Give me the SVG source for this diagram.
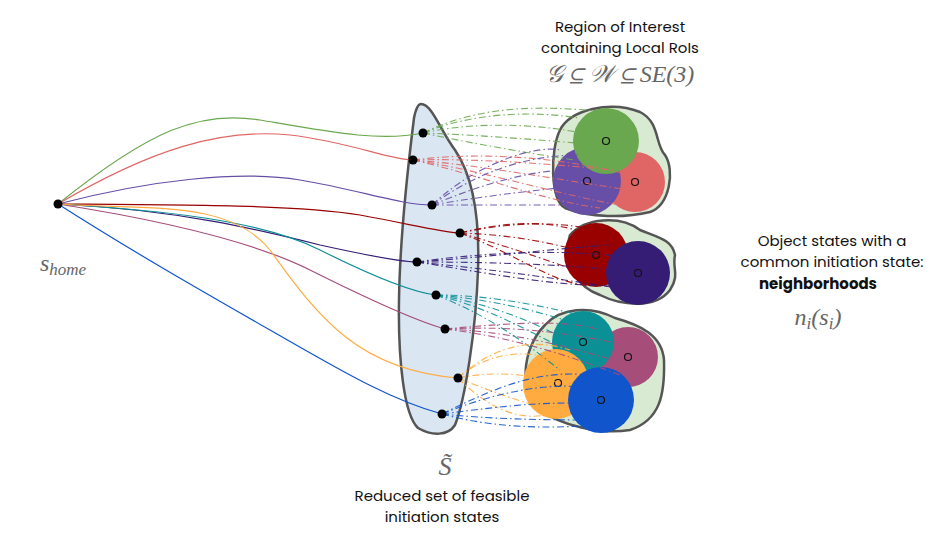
<svg xmlns="http://www.w3.org/2000/svg" width="948" height="538" viewBox="0 0 948 538">
<style>
.t{font-family:"Poppins","Inter","Noto Sans",sans-serif;font-size:15px;fill:#111;text-anchor:middle}
.m{font-family:"Liberation Serif",serif;font-style:italic;fill:#666;text-anchor:middle}
.c{fill:none;stroke-width:1.2}
.d{fill:none;stroke-width:1.1;stroke-dasharray:7 3 1.5 3;opacity:.9}
.pt{fill:#000}
.ctr{fill:none;stroke:#111;stroke-width:1.2}
.cl{fill:#d9ead3;stroke:#555;stroke-width:2.5}
</style>
<rect width="948" height="538" fill="#fff"/>
<g id="regionS"><path d="M421,104 C432,104 440,130 455,150 C472,175 480,215 478,270 C476,330 465,400 455,425 C448,436 432,436 418,428 C404,415 398,360 399,300 C400,230 410,150 414,118 C416,108 418,104 421,104 Z" fill="#dae6f2" stroke="#555" stroke-width="2.5"/></g>
<g id="cluster1"><path d="M560,130 C570,110 610,100 640,112 C660,122 655,145 665,155 C675,170 670,205 650,212 C625,218 590,218 565,208 C550,200 550,150 560,130 Z" class="cl"/>
<circle cx="635" cy="182" r="30" fill="#e06666"/><circle cx="587" cy="181" r="34" fill="#674ea7"/><circle cx="606" cy="141" r="33" fill="#6aa84f"/>
<circle cx="606" cy="141" r="3.5" class="ctr"/><circle cx="587" cy="181" r="3.5" class="ctr"/><circle cx="635" cy="182" r="3.5" class="ctr"/></g>
<g id="cluster2"><path d="M570,235 C585,218 620,215 640,230 C660,238 672,240 675,255 C672,268 680,275 670,290 C655,310 620,305 600,295 C580,288 560,265 570,235 Z" class="cl"/>
<circle cx="596" cy="255" r="32" fill="#990000"/><circle cx="638" cy="273" r="32" fill="#351c75"/>
<circle cx="596" cy="255" r="3.5" class="ctr"/><circle cx="638" cy="273" r="3.5" class="ctr"/></g>
<g id="cluster3"><path d="M545,325 C560,308 590,305 615,318 C640,325 662,335 664,360 C665,395 660,420 630,430 C600,435 560,425 540,410 C520,395 520,350 545,325 Z" class="cl"/>
<circle cx="628" cy="357" r="30" fill="#a64d79"/><circle cx="583" cy="342" r="31" fill="#0b9096"/><ellipse cx="556" cy="384" rx="33" ry="35" fill="#ffab40"/><circle cx="601" cy="400" r="33" fill="#1155cc"/>
<circle cx="583" cy="342" r="3.5" class="ctr"/><circle cx="628" cy="357" r="3.5" class="ctr"/><circle cx="558" cy="383" r="3.5" class="ctr"/><circle cx="601" cy="400" r="3.5" class="ctr"/></g>
<g id="connectors">
<path class="c" stroke="#6aa84f" d="M58,204 C150,130 200,110 260,120 C330,132 380,142 423,133"/>
<path class="c" stroke="#e06666" d="M58,204 C150,150 220,128 290,135 C350,142 390,160 413,160"/>
<path class="c" stroke="#674ea7" d="M58,204 C150,180 240,170 300,180 C360,190 400,205 432,205"/>
<path class="c" stroke="#990000" d="M58,204 C200,205 300,205 360,215 C410,224 440,232 460,233"/>
<path class="c" stroke="#351c75" d="M58,204 C180,210 260,230 320,245 C370,256 400,262 417,262"/>
<path class="c" stroke="#0b9096" d="M58,204 C160,210 260,220 320,250 C370,275 410,292 436,295"/>
<path class="c" stroke="#a64d79" d="M58,204 C160,220 250,240 310,270 C370,300 420,322 445,329"/>
<path class="c" stroke="#ffab40" d="M58,204 C150,210 230,200 270,250 C320,320 360,370 458,378"/>
<path class="c" stroke="#1155cc" d="M58,204 C130,250 200,290 270,330 C340,370 390,400 442,414"/>
<g stroke="#6aa84f"><path class="d" d="M423,133 C480,110 540,112 580,118"/><path class="d" d="M423,133 C480,120 550,125 590,135"/><path class="d" d="M423,133 C480,135 540,140 600,145"/><path class="d" d="M423,133 C480,145 540,155 575,160"/><path class="d" d="M423,133 C490,100 560,108 610,112"/></g>
<g stroke="#e06666"><path class="d" d="M413,160 C480,158 560,165 615,170"/><path class="d" d="M413,160 C480,165 560,180 630,190"/><path class="d" d="M413,160 C480,170 560,195 620,205"/><path class="d" d="M413,160 C490,150 580,160 640,178"/><path class="d" d="M413,160 C480,175 540,200 600,208"/></g>
<g stroke="#674ea7"><path class="d" d="M432,205 C480,170 530,155 580,155"/><path class="d" d="M432,205 C480,185 530,170 570,170"/><path class="d" d="M432,205 C490,195 540,190 585,185"/><path class="d" d="M432,205 C490,205 540,205 575,205"/><path class="d" d="M432,205 C480,160 540,145 560,150"/></g>
<g stroke="#990000"><path class="d" d="M460,233 C520,220 570,222 600,232"/><path class="d" d="M460,233 C520,235 560,245 595,255"/><path class="d" d="M460,233 C520,250 560,265 590,275"/><path class="d" d="M460,233 C520,255 560,290 600,285"/><path class="d" d="M460,233 C530,215 580,225 605,245"/></g>
<g stroke="#351c75"><path class="d" d="M417,262 C500,250 580,250 630,258"/><path class="d" d="M417,262 C500,262 580,265 640,273"/><path class="d" d="M417,262 C500,270 580,282 630,290"/><path class="d" d="M417,262 C500,256 560,248 610,245"/><path class="d" d="M417,262 C500,275 570,290 650,285"/></g>
<g stroke="#0b9096"><path class="d" d="M436,295 C500,300 550,315 580,325"/><path class="d" d="M436,295 C500,305 550,330 575,345"/><path class="d" d="M436,295 C500,310 550,345 590,360"/><path class="d" d="M436,295 C500,295 560,310 600,320"/><path class="d" d="M436,295 C500,320 540,355 560,370"/></g>
<g stroke="#a64d79"><path class="d" d="M445,329 C520,325 580,335 625,345"/><path class="d" d="M445,329 C520,332 580,350 630,365"/><path class="d" d="M445,329 C520,338 580,360 620,375"/><path class="d" d="M445,329 C520,322 570,320 600,330"/></g>
<g stroke="#ffab40"><path class="d" d="M458,378 C490,350 530,350 555,360"/><path class="d" d="M458,378 C500,370 530,375 560,383"/><path class="d" d="M458,378 C500,395 530,405 555,410"/><path class="d" d="M458,378 C490,410 520,420 545,415"/><path class="d" d="M458,378 C500,340 540,340 570,350"/></g>
<g stroke="#1155cc"><path class="d" d="M442,414 C500,390 560,380 600,390"/><path class="d" d="M442,414 C510,405 560,400 605,405"/><path class="d" d="M442,414 C500,420 560,420 600,420"/><path class="d" d="M442,414 C500,430 560,428 595,425"/><path class="d" d="M442,414 C500,385 540,370 590,375"/></g>
</g>
<g id="points"><circle class="pt" cx="58" cy="204" r="4.5"/><circle class="pt" cx="423" cy="133" r="4.5"/><circle class="pt" cx="413" cy="160" r="4.5"/><circle class="pt" cx="432" cy="205" r="4.5"/><circle class="pt" cx="460" cy="233" r="4.5"/><circle class="pt" cx="417" cy="262" r="4.5"/><circle class="pt" cx="436" cy="295" r="4.5"/><circle class="pt" cx="445" cy="329" r="4.5"/><circle class="pt" cx="458" cy="378" r="4.5"/><circle class="pt" cx="442" cy="414" r="4.5"/></g>
<g id="labels">
<text class="m" x="63" y="271" font-size="24">s<tspan font-size="17" dy="4">home</tspan></text>
<text class="t" x="620" y="32">Region of Interest</text>
<text class="t" x="620" y="53">containing Local RoIs</text>
<text class="m" x="620" y="82" font-size="24">𝒢 ⊆ 𝒲 ⊆ SE(3)</text>
<text class="m" x="445" y="475" font-size="26">S̃</text>
<text class="t" x="442" y="501">Reduced set of feasible</text>
<text class="t" x="442" y="522">initiation states</text>
<text class="t" x="832" y="246">Object states with a</text>
<text class="t" x="832" y="267">common initiation state:</text>
<text class="t" x="818" y="289" font-weight="bold">neighborhoods</text>
<text class="m" x="818" y="325" font-size="24">n<tspan font-size="17" dy="4">i</tspan><tspan dy="-4">(s</tspan><tspan font-size="17" dy="4">i</tspan><tspan dy="-4">)</tspan></text>
</g>
</svg>
